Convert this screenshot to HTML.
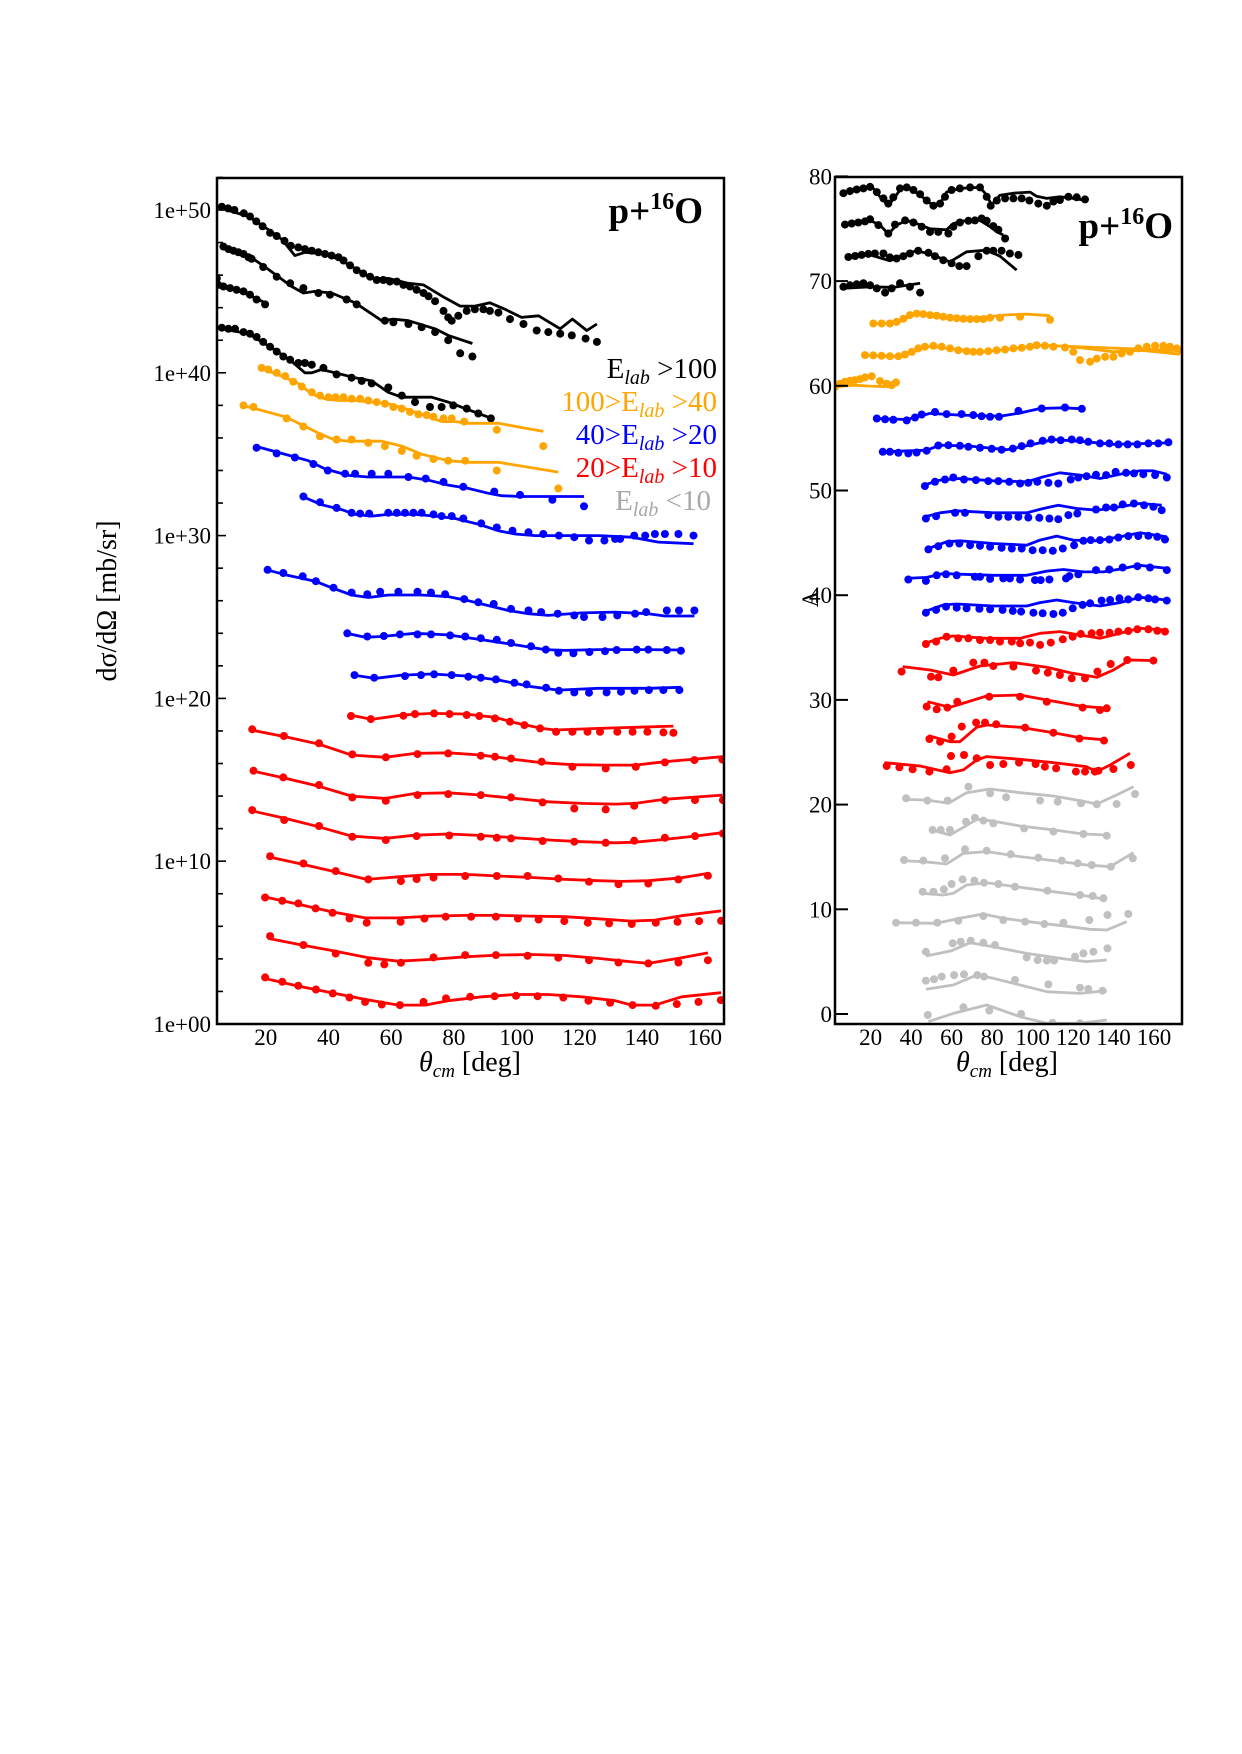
<!DOCTYPE html>
<html><head><meta charset="utf-8"><style>
html,body{margin:0;padding:0;background:#fff;}
svg{display:block;}
text{font-family:"Liberation Serif","DejaVu Serif",serif;}
</style></head>
<body>
<svg id="fig" width="1242" height="1754" viewBox="0 0 1242 1754" xmlns="http://www.w3.org/2000/svg">
<rect x="0" y="0" width="1242" height="1754" fill="#fff"/>
<defs>
<clipPath id="clipL"><rect x="217" y="178" width="507" height="846"/></clipPath>
<clipPath id="clipR"><rect x="835" y="177" width="347" height="847"/></clipPath>
</defs>
<g id="leftPlot"></g>
<g id="rightPlot"></g>

<rect x="217" y="178" width="507" height="846" fill="none" stroke="#000" stroke-width="2.5"/>
<text x="703" y="223" text-anchor="end" font-size="37" font-weight="bold">p+<tspan font-size="24" dy="-14">16</tspan><tspan dy="14">O</tspan></text>
<g font-size="29" text-anchor="end">
<text x="717" y="378" fill="#000">E<tspan font-size="20" font-style="italic" dy="6">lab</tspan><tspan dy="-6"> &gt;100</tspan></text>
<text x="717" y="411" fill="#FFA500">100&gt;E<tspan font-size="20" font-style="italic" dy="6">lab</tspan><tspan dy="-6"> &gt;40</tspan></text>
<text x="717" y="444" fill="#0000FF">40&gt;E<tspan font-size="20" font-style="italic" dy="6">lab</tspan><tspan dy="-6"> &gt;20</tspan></text>
<text x="717" y="477" fill="#FF0000">20&gt;E<tspan font-size="20" font-style="italic" dy="6">lab</tspan><tspan dy="-6"> &gt;10</tspan></text>
<text x="711" y="510" fill="#A8A8A8">E<tspan font-size="20" font-style="italic" dy="6">lab</tspan><tspan dy="-6"> &lt;10</tspan></text>
</g>
<text transform="translate(116,601) rotate(-90)" text-anchor="middle" font-size="28">dσ/dΩ [mb/sr]</text>
<text x="470" y="1071" text-anchor="middle" font-size="28"><tspan font-style="italic">θ</tspan><tspan font-size="19" font-style="italic" dy="6">cm</tspan><tspan dy="-6"> [deg]</tspan></text>

<rect x="835" y="177" width="347" height="847" fill="none" stroke="#000" stroke-width="2.5"/>
<text x="1173" y="238" text-anchor="end" font-size="37" font-weight="bold">p+<tspan font-size="24" dy="-14">16</tspan><tspan dy="14">O</tspan></text>
<text transform="translate(818,599) rotate(-90)" text-anchor="middle" font-size="23">A</text>
<text x="1007" y="1071" text-anchor="middle" font-size="28"><tspan font-style="italic">θ</tspan><tspan font-size="19" font-style="italic" dy="6">cm</tspan><tspan dy="-6"> [deg]</tspan></text>
</svg>
<script>
const leftColors = ["#000","#000","#000","#000","#FFA500","#FFA500","#0000FF","#0000FF","#0000FF","#0000FF","#0000FF","#FF0000","#FF0000","#FF0000","#FF0000","#FF0000","#FF0000","#FF0000","#FF0000"];
const leftDotTheta = [
[6,8,10,13,15,17,19,21.4,23.5,26,28,30.4,32.5,34.7,36.8,38.9,41,43.2,44.8,46.9,49,51.1,53.3,55.4,57.5,59.6,61.8,63.9,66,68.1,70.3,71.9,74,76.7,78.2,79.3,81.4,84.1,86.7,89.4,91.5,94.2,97.9,102.2,106.4,110.1,113.9,117.6,122,125.6],
[6.5,8.1,9.7,11.3,12.9,14.5,15.5,19.2,23.5,27.8,32,36.8,40.5,45.8,49,58,60.7,65.5,69.7,74,78.2,82,85.9],
[4.4,4.9,6.5,8.6,10.7,12.9,15,17.1,19.8],
[6,8.1,10.2,12.9,15,17.1,19.2,21.4,23.5,25.6,27.8,30.4,32.5,34.7,38.4,42.6,47.4,50.6,53.8,59.1,63.4,67.6,72.4,76.1,79.8,84.1,87.8,91.8],
[18.7,20.8,23.5,26.2,28.8,31.5,34.7,37.3,40,42.3,44.8,47.4,50.1,52.7,55.4,58,60.7,63.4,66,68.7,71.3,73.5,76.7,79.3,83.3,93.7,108.5],
[12.9,16.1,26.7,32,37.3,42.6,47.4,52.7,58,63.4,68.1,73.5,78.2,83.6,93.7,113.3],
[17.1,23.5,29.3,35.2,39.8,45.3,48.5,53.8,59.1,65.5,71,76.7,83,92.9,101.1,111.4,121.5],
[32,37.3,42.6,47.4,50.1,53,59.1,61.8,64.4,67.1,69.7,73.5,76.1,79.3,83,88.7,93.7,98.7,103.8,108.5,113.5,118.4,123.1,128,131.4,133,137.5,141,144.1,147.3,151.6,156.4],
[20.6,25.6,31.8,36,41.6,47.4,52.4,56.5,62.3,68.4,72.7,77.2,83.3,87.8,92.7,98.2,103.8,107.8,113.1,118.4,121.5,127.4,132.1,137.8,141.3,147.9,151.8,156.7],
[46,52.4,57.7,62.8,68.4,72.7,78.8,83.6,88.6,93.7,98.2,104.6,109.3,113.3,118.1,123.2,128.2,131.9,138.3,142,147.9,152.4],
[48.3,54.6,64.4,69.5,73.7,79.3,84.6,88.6,93.4,99.3,103.2,109.4,113.5,118.4,123.1,128.7,133.3,137.6,142.2,146.8,151.9],
[47.2,53.5,63.9,67.6,73.7,78.6,84.1,88.1,93.1,97.9,102.5,107.5,112.6,117.8,122.6,126.6,132.1,137,141.7,146.8,150],
[15.7,25.8,37,47.6,58.3,68.4,78.2,88.6,93.1,98.2,108,117.8,128.4,138,147.3,156.7,165.6],
[16.1,25.6,37,47.6,58.3,68.4,78.2,88.6,98.2,108.3,118.4,128.4,137.5,147.3,156.9,165.8],
[15.7,25.9,37,47.6,58.3,68.1,78.5,88.6,93.7,98.2,108.3,118.4,128.4,137.5,147.3,156.9,165.8],
[21.4,32,42.3,52.7,63.1,68.1,73.5,83.6,93.7,103.5,113.3,123.1,132.5,142,151.6,161],
[19.8,25.3,30.4,35.9,41.3,46.7,52.2,63,70.6,77.4,85.5,93.4,100.4,107,115.2,122.7,129.5,136.7,144.4,151.3,158.2,165.2],
[21.4,32,42.3,52.7,57.8,63.1,73.5,83.6,93.4,103.5,113.3,123.1,132.5,142,151.6,161],
[19.8,25.3,30.4,36,41.4,46.7,51.7,57,62.8,70.3,77.5,85.2,93,99.8,106.7,114.9,122.9,129.8,137,144.4,151.1,158,165.1]
];
const leftDotVal = [
[50.2,50.1,50.0,49.8,49.6,49.3,49.0,48.6,48.4,48.1,47.8,47.7,47.6,47.5,47.4,47.3,47.2,47.1,46.9,46.6,46.3,46.1,45.9,45.7,45.7,45.6,45.6,45.4,45.3,45.1,44.9,44.7,44.4,43.8,43.4,43.2,43.5,43.8,43.9,43.9,43.8,43.7,43.3,43.0,42.6,42.5,42.4,42.3,42.1,41.9],
[47.75,47.6,47.5,47.4,47.3,47.1,47.0,46.5,45.9,45.5,45.2,44.9,44.8,44.5,44.2,43.2,43.1,43.0,42.8,42.5,42.0,41.2,41.0],
[45.8,45.4,45.3,45.2,45.1,45.0,44.8,44.5,44.2],
[42.77,42.7,42.7,42.5,42.4,42.2,41.9,41.6,41.3,41.0,40.8,40.6,40.6,40.5,40.3,39.9,39.7,39.5,39.35,39.1,38.6,38.2,37.9,37.9,38.0,37.8,37.5,37.2],
[40.3,40.2,40.0,39.8,39.45,39.15,38.8,38.6,38.5,38.5,38.5,38.4,38.4,38.3,38.2,38.1,37.9,37.8,37.6,37.45,37.4,37.3,37.2,37.2,37.0,36.5,35.5],
[38.0,37.9,37.2,36.7,36.1,35.9,35.9,35.7,35.5,35.2,34.9,34.7,34.6,34.6,34.0,32.9],
[35.4,35.05,34.8,34.4,34.0,33.8,33.8,33.8,33.8,33.6,33.5,33.3,33.0,32.7,32.5,32.2,31.8],
[32.4,32.05,31.7,31.4,31.35,31.35,31.4,31.4,31.4,31.4,31.4,31.3,31.2,31.2,31.05,30.75,30.5,30.3,30.2,30.1,30.0,29.9,29.7,29.7,29.8,29.8,30.0,30.0,30.1,30.1,30.1,30.0],
[27.9,27.7,27.5,27.2,26.8,26.5,26.4,26.55,26.55,26.55,26.5,26.4,26.1,25.9,25.8,25.5,25.4,25.3,25.2,25.1,25.0,25.0,25.1,25.2,25.3,25.4,25.4,25.4],
[24.0,23.8,23.83,23.93,23.93,23.93,23.87,23.8,23.7,23.6,23.4,23.2,23.0,22.8,22.77,22.85,22.9,22.97,23.0,23.0,22.97,22.93],
[21.43,21.27,21.37,21.43,21.48,21.43,21.33,21.27,21.17,20.96,20.86,20.66,20.47,20.37,20.35,20.37,20.41,20.47,20.51,20.51,20.51],
[18.92,18.73,18.94,19.04,19.08,19.04,18.98,18.92,18.77,18.57,18.36,18.16,17.95,17.95,17.95,17.95,17.95,17.95,17.95,17.91,17.89],
[18.1,17.69,17.24,16.56,16.38,16.58,16.62,16.48,16.42,16.31,16.11,15.8,15.7,15.8,16.07,16.21,16.25],
[15.56,15.15,14.68,13.92,13.71,14.06,14.12,14.06,13.92,13.61,13.24,13.18,13.41,13.75,13.75,13.75],
[13.14,12.53,12.16,11.5,11.3,11.54,11.58,11.5,11.44,11.4,11.24,11.2,11.13,11.26,11.44,11.54,11.7],
[10.31,9.86,9.39,8.88,8.78,8.9,9.0,9.09,9.09,9.09,8.94,8.74,8.59,8.63,8.88,9.11],
[7.77,7.57,7.41,7.1,6.83,6.48,6.22,6.28,6.48,6.59,6.59,6.59,6.48,6.42,6.32,6.22,6.18,6.14,6.22,6.28,6.32,6.34],
[5.4,4.85,4.33,3.76,3.66,3.76,4.09,4.23,4.23,4.19,4.07,3.92,3.78,3.72,3.78,3.92],
[2.86,2.59,2.35,2.12,1.88,1.63,1.36,1.2,1.16,1.36,1.57,1.67,1.71,1.73,1.71,1.63,1.43,1.3,1.16,1.12,1.22,1.36,1.47]
];
const leftLineTheta = [
[6,14.5,20.8,25.1,29.3,32.5,38.9,44.2,48.5,53.8,59.1,65.5,70.3,77.2,82,86.7,91.5,96.3,101.6,107,113.9,117.8,122.4,125.6],
[7,14.5,19.8,28.3,32,35.7,41,48.5,57,60.7,65.5,74,78.2,85.9],
[4.4,10.2,14.5,19.8],
[6,14.5,23,28.3,32.5,34.7,37.8,42.1,48.5,53.8,59.1,63.4,67.6,72.9,78.2,83.6,92.1],
[18.2,25.1,30.4,34.7,38.9,43.2,48.5,53.8,59.1,64.4,69.7,76.1,80.4,84.6,94.2,108.5],
[12.3,16.6,26.2,31.5,36.8,41.6,46.4,51.7,57,63.4,69.7,78.2,84.6,94.2,113.3],
[16.6,25.1,33.6,38.9,46.4,52.7,59.1,65.5,71.9,78.2,84.6,91,95.2,101.6,110.1,121.5],
[31.7,37.8,44.2,48.5,53.8,59.1,67.6,74,80.4,87.8,94.2,99.5,105.9,113.3,126.1,136.7,145.2,156.4],
[20.3,26.2,35.7,41,47.4,52.7,59.1,69.7,78.2,84.6,91,97.4,103.8,110.1,120.8,131.4,142,147.3,156.7],
[45.8,51.7,57,67.6,78.2,88.9,99.5,109.1,115.5,126.1,142,152.4],
[47.9,54.9,63.4,72.9,84.6,94.2,104.8,113.3,126.1,142,152.4],
[46.9,53.8,63.4,72.9,83.6,93.1,99.5,108,112.3,126.1,136.7,150],
[15.3,26.2,36.8,47.4,58.1,67.6,78.2,88.9,99.5,108,117.8,128.4,137.8,147.3,156.9,165.6],
[15.3,26.2,36.8,47.4,58.1,67.6,78.2,88.9,99.5,110.1,120.8,131.4,137.8,147.3,165.6],
[15.3,26.2,36.8,47.4,58.1,67.6,78.2,88.9,99.5,110.1,120.8,131.4,137.8,147.3,156.9,165.6],
[20.8,31.5,42.1,52.2,62.3,72.9,83.6,94.2,104.8,115.5,126.1,133.5,142,152.6,161],
[19.6,30.4,41,51.7,62.3,72.9,83.6,94.2,104.8,115.5,126.1,136.7,144.1,152.6,165.2],
[20.8,31.5,42.1,52.7,62.3,72.9,83.6,94.2,104.8,115.5,126.1,134.6,142,152.6,161],
[19.6,30.4,41,51.7,62.3,70.8,78.2,88.9,99.5,110.1,120.8,131.4,136.7,144.1,152.6,165.2]
];
const leftLineVal = [
[50.1,49.6,48.8,48.2,47.2,47.4,47.3,46.9,46.4,45.8,45.8,45.5,45.4,44.6,44.1,44.1,44.3,43.9,43.4,43.5,42.7,43.3,42.6,43.0],
[47.75,47.2,46.5,45.3,44.9,45.0,44.9,44.3,43.2,43.3,43.2,42.7,42.3,41.8],
[45.3,45.1,44.8,44.3],
[42.7,42.4,41.4,40.7,40.0,40.0,40.2,40.0,39.7,39.5,38.8,38.5,38.5,38.5,38.2,37.8,37.2],
[40.3,39.8,39.35,38.7,38.4,38.3,38.3,38.2,38.1,37.8,37.45,37.0,37.0,36.9,36.9,36.4],
[38.0,37.8,37.3,36.8,36.3,35.9,35.8,35.8,35.8,35.5,35.0,34.6,34.5,34.5,33.9],
[35.5,35.05,34.6,34.1,33.7,33.6,33.6,33.6,33.4,33.1,32.9,32.6,32.45,32.4,32.4,32.4],
[32.4,31.9,31.6,31.3,31.2,31.3,31.3,31.2,31.05,30.7,30.3,30.1,30.0,30.0,30.0,29.9,29.6,29.5],
[27.9,27.6,27.2,26.8,26.35,26.2,26.35,26.35,26.25,26.0,25.7,25.4,25.2,25.1,25.25,25.3,25.2,25.06,25.06],
[24.0,23.75,23.8,24.0,23.9,23.6,23.3,23.0,22.95,23.0,23.0,22.97],
[21.43,21.23,21.43,21.5,21.37,21.13,20.72,20.51,20.62,20.62,20.68],
[18.98,18.71,18.98,19.08,19.04,18.83,18.51,18.16,18.06,18.16,18.22,18.3],
[18.06,17.65,17.2,16.52,16.38,16.62,16.66,16.52,16.25,16.05,15.93,15.9,15.9,16.11,16.27,16.42],
[15.56,15.09,14.61,14.0,13.86,14.16,14.2,14.06,13.86,13.65,13.55,13.51,13.55,13.8,14.06],
[13.1,12.63,12.12,11.54,11.4,11.6,11.67,11.58,11.44,11.3,11.2,11.13,11.17,11.34,11.54,11.75],
[10.27,9.82,9.35,8.88,9.04,9.19,9.19,9.09,9.0,8.88,8.8,8.76,8.8,8.98,9.25],
[7.81,7.36,6.89,6.52,6.52,6.63,6.67,6.67,6.63,6.59,6.46,6.32,6.38,6.65,6.95],
[5.26,4.85,4.48,4.07,3.86,3.97,4.13,4.23,4.27,4.21,4.03,3.86,3.72,4.07,4.37],
[2.8,2.33,1.92,1.51,1.16,1.16,1.43,1.67,1.81,1.81,1.67,1.43,1.16,1.16,1.67,1.92]
];
const leftXTicks = [20,40,60,80,100,120,140,160];
const leftYMajor = [0,10,20,30,40,50];
const leftYLabels = ["1e+00","1e+10","1e+20","1e+30","1e+40","1e+50"];

const rightColors = ["#000","#000","#000","#000","#FFA500","#FFA500","#FFA500","#FFA500","#0000FF","#0000FF","#0000FF","#0000FF","#0000FF","#0000FF","#0000FF","#FF0000","#FF0000","#FF0000","#FF0000","#FF0000","#C0C0C0","#C0C0C0","#C0C0C0","#C0C0C0","#C0C0C0","#C0C0C0","#C0C0C0","#C0C0C0"];
const rightDotTheta = [
[6.5,9.8,13.1,16.4,19.7,23,26.3,28.7,31.2,34.5,37.8,41.1,44.4,47.7,51,54.3,56.7,60,64.1,69.1,74,77.3,79.3,82.3,86.4,90.5,94.6,98.4,102.8,107,110.3,113.5,117.7,121.8,125.9],
[7.3,10.6,13.9,17.2,19.7,23.8,28.7,32,37,41.1,45.2,49.3,53.4,58.4,60.8,64.1,68.3,71.5,74.8,77.3,80.6,83.1,86.4],
[9,12.3,15.5,18.8,22.1,26.3,29.5,32.8,36.1,39.4,43.5,48.5,51.8,55.9,60,63.8,67.4,73.2,77.3,80.6,84.7,88.8,93],
[6.5,9.8,13.1,16.4,19.7,23,27.1,30.4,34.5,39.4,44.4],
[21.3,25.4,29.5,32.8,36.1,39.4,42.7,46,49.3,52.6,55.9,59.2,62.5,65.8,69.1,72.4,75.7,79,83.9,93.8,108.6],
[17.2,21.3,25.4,29.5,33.7,37,40.3,43.5,46.8,51,55.1,59.2,63.3,67.4,70.7,74,78.1,82.2,86.4,90.5,94.6,98.7,102,106.1,110.3,116,120.1,123.4,128.4,131.7,135.8,139.9,144,148.1,152.2,156.4,160.5,164.6,167.9,171.2,173.7],
[],
[2.4,4.8,7.3,9.8,12.2,14.7,17.2,20.5,24.6,27.9,30.4,32.5],
[23,27.1,31.2,37.8,41.9,45.2,51.8,57.5,64.9,70.7,74.8,79,83.4,93,104.5,116,124.3],
[26,29.5,33.7,38.6,42.7,47.7,53.4,58.4,64.1,68.3,74,79.8,84.7,90.2,94.6,99,105,109.4,113.9,119.3,123.4,127.5,133.3,137.9,142.4,147,151.8,157.2,162.1,167.1],
[46.8,51.8,56.7,60.8,66.1,72,78.1,83.1,88.5,93.8,97.9,102.3,107.8,112.7,118.8,122.6,126.7,131.3,136.3,141,146.2,150.1,154.7,160.5,166.3],
[47.3,52.3,61.7,66.6,78.1,83.1,88,93,97.9,103.3,108.3,112.7,117.7,122.1,131.3,136.3,140.2,144.5,150.1,155.1,159.7,163.8],
[48.5,53.4,58.9,63.8,69.1,74,79,84.7,89.7,94.6,100,105,110,114.9,120.5,125.1,128.7,133.3,137.9,142.4,147.3,152.2,157.2,161.6,165.4],
[38.6,47.3,52.6,57.2,62.5,71.5,74,79,85.5,88.8,93.8,101.2,104,108.3,116.5,118.2,122.6,131.3,137.9,144.5,151.8,158,166.3],
[47.3,52.3,57.2,62.5,67.4,73.7,79,85.2,90.2,94.3,100.4,105,110.3,114.9,119.8,124.7,128.4,134.1,138.3,142.9,147.3,152.2,157.2,160.5,166.3],
[47.3,52.3,57.5,63.3,68.3,74,79,83.9,89.7,93.8,98.7,103.7,109,114.9,119.8,123.8,129.2,133.3,138,142.4,147.3,151.8,157.2,161.6,165.4],
[35.3,49.8,53.4,60.8,70.7,76.2,80.6,90.5,101.7,107.5,113.5,119.3,125.9,132,138.6,146.8,159.7],
[47.7,52.6,57.9,62.8,78.6,93.8,107,124.7,133.3,136.6],
[49,54.3,60,65,72.1,76.5,82,96.3,110.3,123.1,135.3],
[27.9,34.2,40.7,49,57.5,59.7,66.1,72.4,79,85.5,93.3,101.5,106.1,111.6,121.4,125.9,130.8,132.5,139.9,148.5],
[37.5,48,58,68.3,79,86.9,103.7,112.4,123.9,131.7,141.5,150.6],
[50.6,54.6,59.2,67.1,71.5,75.7,80.6,95.8,110.3,125.1,136.6],
[36.5,46,56.7,66.6,77.3,89.2,102.8,114.4,122.3,129.2,138.7,149.5],
[45.7,51,56.2,60,65.4,71.2,76,83.1,91.3,107.3,123.4,129.7,135],
[32.5,42.4,52.9,63.3,75.7,85.5,96.3,105.8,115.2,128,137,147.3],
[47.3,60.5,64.5,69.4,75.7,81.4,97.1,102.5,107,110.6,121,125.1,130,137],
[47.3,51.3,55.1,61.2,66.1,72.7,76,91.3,107.8,123.4,127.5,134.6],
[48.2,65.8,78.6,94.3,109.8,123.4]
];
const rightDotVal = [
[78.4,78.6,78.75,78.85,79.0,78.5,77.9,77.4,78,78.85,78.95,78.7,78.3,77.7,77.2,77.4,78.05,78.7,78.85,78.95,78.95,78.05,77.2,77.7,77.9,77.9,77.9,77.7,77.4,77.2,77.6,77.75,78.05,78.0,77.8],
[75.4,75.5,75.6,75.7,75.9,75.35,74.55,75.4,75.8,75.6,75.2,74.7,74.7,74.55,75.2,75.6,75.76,75.8,75.98,75.76,75.25,74.9,74.07],
[72.3,72.4,72.5,72.6,72.64,72.64,72.26,72.16,72.38,72.64,72.9,72.7,72.38,72.0,71.7,71.43,71.43,72.38,72.9,72.9,72.9,72.64,72.5],
[69.46,69.6,69.7,69.8,69.6,69.3,68.9,69.3,69.8,69.46,68.9],
[65.95,65.95,65.95,66.1,66.4,66.75,66.9,66.85,66.75,66.7,66.6,66.5,66.46,66.4,66.37,66.37,66.37,66.5,66.5,66.6,66.3],
[62.93,62.9,62.87,62.83,62.83,62.99,63.25,63.57,63.73,63.82,63.73,63.57,63.4,63.3,63.25,63.25,63.3,63.4,63.47,63.57,63.63,63.73,63.88,63.82,63.73,63.66,63.25,62.45,62.3,62.6,62.77,62.77,63.09,63.25,63.57,63.73,63.82,63.82,63.73,63.57,63.4],
[],
[59.9,60.2,60.38,60.48,60.54,60.64,60.8,60.92,60.45,60.2,60.06,60.32],
[56.88,56.8,56.75,56.7,56.97,57.26,57.5,57.3,57.3,57.2,57.1,57.04,57.04,57.6,57.83,57.93,57.8],
[53.7,53.7,53.6,53.54,53.63,53.8,54.3,54.33,54.27,54.17,54.08,53.98,53.9,54.0,54.24,54.5,54.75,54.87,54.8,54.87,54.8,54.65,54.5,54.5,54.4,54.4,54.4,54.5,54.5,54.6],
[50.42,50.83,51.05,51.24,51.05,50.99,50.9,50.9,50.83,50.67,50.74,50.83,50.74,50.67,51.05,51.24,51.37,51.5,51.47,51.78,51.69,51.63,51.56,51.47,51.24],
[47.33,47.55,47.87,47.87,47.65,47.49,47.49,47.49,47.42,47.39,47.33,47.26,47.65,47.8,48.19,48.38,48.38,48.67,48.76,48.6,48.44,48.12],
[44.37,44.68,44.94,44.94,44.78,44.72,44.62,44.53,44.46,44.46,44.3,44.3,44.24,44.46,44.78,45.2,45.26,45.26,45.32,45.51,45.64,45.64,45.67,45.58,45.32],
[41.5,41.37,41.9,42.0,41.9,41.76,41.76,41.56,41.6,41.6,41.5,41.44,41.44,41.5,41.6,41.82,42.0,42.4,42.45,42.65,42.77,42.65,42.4],
[38.33,38.6,38.9,38.81,38.75,38.7,38.65,38.6,38.5,38.43,38.33,38.27,38.2,38.33,38.75,39.07,39.23,39.48,39.54,39.7,39.6,39.8,39.7,39.6,39.48],
[35.34,35.57,36.04,35.88,35.88,35.72,35.72,35.57,35.57,35.41,35.47,35.25,35.47,35.79,36.04,36.3,36.36,36.42,36.42,36.52,36.58,36.74,36.74,36.6,36.52],
[32.7,32.22,32.16,32.8,33.56,33.56,33.24,33.18,32.8,32.6,32.38,32.06,32.06,32.7,33.43,33.81,33.75],
[29.36,29.1,29.26,29.83,30.31,30.31,29.83,29.26,29.04,29.2],
[26.27,26.01,26.49,27.45,27.83,27.83,27.67,27.35,26.87,26.3,26.11],
[23.69,23.56,23.37,23.15,23.37,24.64,24.74,24.42,23.78,23.88,24.01,23.88,23.62,23.47,23.15,23.15,23.15,23.24,23.4,23.78],
[20.6,20.38,20.38,21.71,21.08,20.7,20.38,20.28,20.12,20.03,20.06,21.01],
[17.58,17.58,17.58,18.37,18.75,18.47,18.21,17.73,17.42,17.19,17.03],
[14.71,14.65,14.87,15.73,15.6,15.25,14.93,14.65,14.39,14.23,14.07,14.87],
[11.68,11.68,11.91,12.42,12.86,12.74,12.54,12.42,12.16,11.78,11.37,11.27,11.05],
[8.72,8.72,8.72,8.91,9.36,8.98,8.82,8.6,8.72,8.98,9.46,9.55],
[5.95,6.75,6.91,7.0,6.81,6.59,5.41,5.16,5.1,5.1,5.48,5.79,5.95,6.27],
[3.18,3.31,3.57,3.72,3.79,3.72,3.57,3.25,2.83,2.51,2.39,2.23],
[-0.1,0.64,0.32,0.0,-0.83,-0.89]
];
const rightLineTheta = [
[5.7,11.4,18,21.3,24.6,28.7,32,35.3,39.4,44.4,51,54.3,57.5,64.1,74,76.5,79.8,83.9,90.5,98.7,102,107,113.5,120.1,126.7],
[6.5,14.7,19.7,24.6,28.7,32.8,37.8,42.7,49.3,57.5,60.8,67.4,74,79,82.3,85.5],
[8.1,19.7,29.5,36.1,42.7,49.3,59.2,67.4,77.3,83.9,92.1],
[5.7,19.7,31.2,44.4],
[20.5,32.8,42.7,51,64.1,79,85.5,97.1,108.6],
[17.2,32.8,41.1,49.3,60.8,74,87.2,102,115.2,126.7,139.9,153.1,172.8],
[115.2,140,172.8],
[2.4,11.4,19.7,31.2],
[22.1,37.8,49.3,64.1,83.9,93.8,103.7,115.2,125.1],
[25.4,47.7,54.3,69.1,87.2,100.4,110.3,126.7,139.9,167.6],
[46,54.3,64.1,80.6,97.1,105.3,113.5,123.4,133.3,143.2,153.1,159.7,166.3],
[46.8,54.3,62.5,80.6,97.1,105.3,112.7,121.8,131.7,143.2,153.1,163.8],
[48.5,57.5,64.1,80.6,97.1,103.7,111.9,120.1,131.7,143.2,153.1,166.3],
[37.8,47.7,55.9,65.8,80.6,97.1,107,115.2,125.1,135,144.9,152.2,167.1],
[46.8,55.9,62.5,80.6,97.1,103.7,111.9,120.1,133.3,143.2,153.1,166.3],
[46.8,54.3,60.8,77.3,93.8,103.7,113.5,123.4,133.3,143.2,153.1,166.3],
[35.8,49.3,60.8,74,90.5,107,118.5,131.7,139.9,148.1,160.5],
[48,59.2,77.3,93.8,107,123.4,136.6],
[48.5,59.2,64.1,72.4,77.3,93.8,110.3,123.4,136.6],
[26.8,44.4,49.3,59.2,65.8,72.4,77.3,93.8,110.3,126.7,131.7,138.3,148.1],
[36.1,47.7,58.4,67.4,79,93.8,110.3,123.4,131.7,141.5,149.8],
[50.1,59.2,65.8,72.4,79,93.8,110.3,125.1,136.6],
[35.3,46,57.5,65.8,77.3,93.8,110.3,126.7,138.3,149.8],
[45.2,55.9,60.8,67.4,77.3,93.8,110.3,126.7,135.8],
[32,52.6,64.1,75.7,85.5,102,118.5,128.4,136.6,146.5],
[47.3,60,69.1,80.6,97.1,113.5,126.7,136.6],
[47.3,60.8,72.4,80.6,93.8,107,123.4,136.6],
[48.5,60.8,77.3,93.8,107,123.4,136.6]
];
const rightLineVal = [
[78.4,78.7,79.0,78.85,78.05,77.2,78.05,78.9,78.85,78.2,77.2,77.4,78.5,78.85,78.95,78.4,77.3,78.2,78.4,78.5,78.1,77.9,78.05,77.9,77.7],
[75.5,75.7,75.8,75.35,74.5,75.35,75.8,75.5,75.0,74.9,75.5,75.8,75.8,75.2,74.7,74.4],
[72.26,72.5,71.94,72.5,72.9,72.58,71.84,72.8,72.96,72.38,71.05],
[69.3,69.46,69.4,69.8],
[65.95,66.0,66.9,66.75,66.4,66.6,66.75,66.85,66.7],
[62.93,62.77,63.25,63.79,63.5,63.25,63.47,63.88,63.79,63.57,63.25,63.4,63.02],
[63.79,63.6,63.35],
[59.9,60.06,59.97,59.9],
[56.88,56.78,57.36,57.2,57.1,57.4,57.83,57.9,57.8],
[53.7,53.85,54.33,54.24,53.9,54.4,54.87,54.65,54.4,54.55],
[50.5,50.99,51.15,50.93,50.83,51.31,51.69,51.47,51.15,51.56,51.88,51.88,51.56],
[47.49,47.87,48.06,47.87,47.87,48.28,48.6,48.28,48.12,48.44,48.76,48.6],
[44.46,45.1,45.2,44.94,44.78,45.26,45.64,45.26,45.2,45.58,45.96,45.58],
[41.6,41.7,42.07,42.0,41.9,41.9,42.3,42.45,42.23,42.23,42.55,42.87,42.55],
[38.43,39.07,39.16,38.97,38.97,39.29,39.54,39.29,38.97,39.29,39.8,39.54],
[35.41,35.88,36.1,35.88,35.88,36.36,36.52,36.2,35.88,36.36,36.84,36.68],
[33.18,32.86,32.38,33.24,33.56,33.11,32.6,32.16,32.86,33.81,33.75],
[29.83,29.29,30.37,30.47,29.99,29.42,29.2],
[26.59,26.01,26.01,27.38,27.6,27.38,26.87,26.39,26.17],
[24.01,23.69,23.47,23.05,23.31,24.26,24.58,24.33,24.01,23.62,23.15,23.78,24.9],
[20.5,20.44,20.12,21.14,21.49,21.14,20.82,20.38,20.06,20.92,21.71],
[17.58,17.1,17.83,18.59,18.47,17.96,17.58,17.19,17.1],
[14.65,14.55,14.33,15.35,15.51,15.03,14.65,14.23,14.07,15.41],
[11.53,11.37,11.53,12.32,12.54,12.1,11.68,11.27,10.95],
[8.72,8.66,9.14,9.55,9.14,8.72,8.34,8.09,8.02,8.82],
[5.54,6.05,6.81,6.43,5.79,5.32,5.0,5.16],
[2.36,2.77,3.72,3.41,2.77,2.13,1.97,2.23],
[-0.73,0.06,0.86,-0.26,-0.89,-0.89,-0.57]
];
const rightXTicks = [20,40,60,80,100,120,140,160];
const rightYTicks = [0,10,20,30,40,50,60,70,80];

const NS = "http://www.w3.org/2000/svg";
function xL(t){ return 203 + 3.136 * t; }
function yL(v){ return 1024 - 16.28 * v; }
function xR(t){ return 830.2 + 2.024 * t; }
function yR(a){ return 1014 - 10.47 * a; }
function mk(tag, attrs, parent){
  const e = document.createElementNS(NS, tag);
  for (const k in attrs) e.setAttribute(k, attrs[k]);
  parent.appendChild(e);
  return e;
}
function drawPanel(g, clipId, colors, dT, dV, lT, lV, fx, fy, prefix){
  const cg = mk('g', {'clip-path': 'url(#' + clipId + ')'}, g);
  for (let s = 0; s < colors.length; s++){
    const sg = mk('g', {}, cg);
    
    
    const lt = lT[s], lv = lV[s];
    if (lt && lt.length){
      let d = '';
      for (let i = 0; i < Math.min(lt.length, lv.length); i++){
        d += (i ? 'L' : 'M') + fx(lt[i]).toFixed(1) + ',' + fy(lv[i]).toFixed(1);
      }
      const p = mk('path', {d: d, fill: 'none', stroke: colors[s], 'stroke-width': 2.8, 'stroke-linejoin': 'round'}, sg);
      
      
    }
    const dt = dT[s], dv = dV[s];
    for (let i = 0; i < Math.min(dt.length, dv.length); i++){
      const c = mk('circle', {cx: fx(dt[i]).toFixed(1), cy: fy(dv[i]).toFixed(1), r: 4.0, fill: colors[s]}, sg);
      
      
    }
  }
}
const gL = document.getElementById('leftPlot');
const gR = document.getElementById('rightPlot');
drawPanel(gL, 'clipL', leftColors, leftDotTheta, leftDotVal, leftLineTheta, leftLineVal, xL, yL, 'left');
drawPanel(gR, 'clipR', rightColors, rightDotTheta, rightDotVal, rightLineTheta, rightLineVal, xR, yR, 'right');

for (let v = 0; v <= 52; v += 2){
  const major = v % 10 === 0;
  const t = mk('line', {x1: 217, x2: 217 + (major ? 9 : 6), y1: yL(v), y2: yL(v), stroke: '#000', 'stroke-width': 1.6}, gL);
  
  
}
leftYMajor.forEach((v, i) => {
  const t = mk('text', {x: 211, y: yL(v) + 8, 'text-anchor': 'end', 'font-size': 23}, gL);
  t.textContent = leftYLabels[i];
  
  
});
leftXTicks.forEach(v => {
  const t = mk('text', {x: xL(v), y: 1045, 'text-anchor': 'middle', 'font-size': 23}, gL);
  t.textContent = String(v);
  
  
});
rightYTicks.forEach(v => {
  const l = mk('line', {x1: 835, x2: 848, y1: yR(v), y2: yR(v), stroke: '#000', 'stroke-width': 2}, gR);
  
  
  const t = mk('text', {x: 832, y: yR(v) + 8, 'text-anchor': 'end', 'font-size': 23}, gR);
  t.textContent = String(v);
  
  
});
rightXTicks.forEach(v => {
  const t = mk('text', {x: xR(v), y: 1045, 'text-anchor': 'middle', 'font-size': 23}, gR);
  t.textContent = String(v);
  
  
});
</script>
</body></html>
